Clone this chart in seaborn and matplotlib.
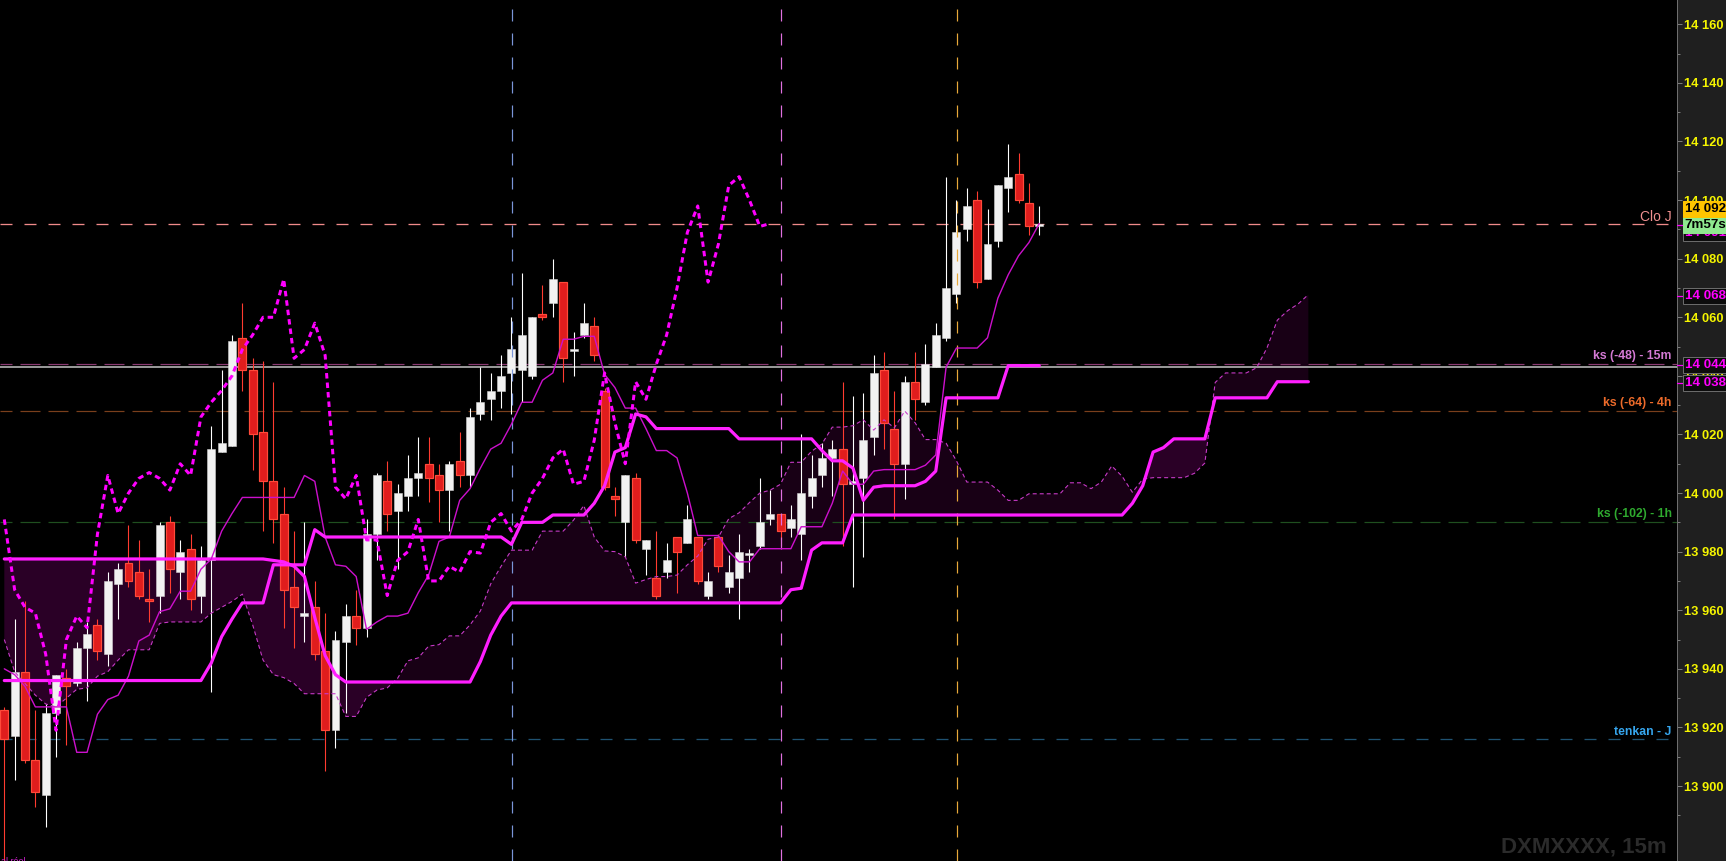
import numpy as np
import pandas as pd
import matplotlib
matplotlib.use("Agg")
import matplotlib.pyplot as plt
import matplotlib.transforms as mtransforms
from matplotlib.patches import Rectangle
from matplotlib.lines import Line2D
import seaborn as sns

# ---------------- data ----------------
opens = [13926, 13917, 13939, 13909, 13897, 13925, 13937, 13935, 13947, 13955,
         13945, 13969, 13976, 13973, 13964, 13965, 13990, 13973, 13981, 13965,
         13977, 14014, 14016, 14053, 14042, 14021, 14004, 13993, 13968, 13958,
         13961, 13946, 13919, 13949, 13958, 13954, 13986, 14004, 13994, 13999,
         14005, 14010, 14006, 14001, 14011, 14006, 14027, 14032, 14035, 14041,
         14042, 14040, 14061, 14065, 14072, 14048.5, 14054, 14057, 14035, 13999,
         13990, 14005, 13981, 13971, 13973, 13985, 13983, 13985, 13965, 13985,
         13968, 13971, 13979, 13982, 13991, 13993, 13988, 13986, 13999, 14006,
         14012, 14015, 14003, 14005, 14019, 14042, 14022, 14010, 14038, 14031,
         14043, 14053, 14068, 14090, 14100, 14073, 14086, 14104, 14109, 14099,
         14091]
highs = [13927, 13957, 13963, 13926, 13928, 13938, 13940, 13949, 13956, 13957,
         13973, 13976, 13989, 13984, 13974, 13990, 13992, 13984, 13986, 13982,
         14023, 14042, 14054, 14065, 14046, 14045, 14038, 14002, 13987, 13990,
         13970, 13959, 13953, 13962, 13967, 13991, 14007, 14011, 14003, 14013,
         14019, 14019, 14010, 14011, 14021, 14029, 14043, 14041, 14047, 14060,
         14075, 14060, 14071, 14080, 14072, 14055, 14065, 14060, 14036, 14002,
         14006, 14007, 13984, 13987, 13983, 13985, 13996, 13985, 13973, 13986,
         13979, 13986, 13981, 14005, 14001, 13993, 13996, 14020, 14013, 14017,
         14018, 14038, 14033, 14034, 14047, 14048, 14035, 14040, 14048, 14051,
         14058, 14108, 14100, 14104, 14103, 14097, 14105, 14119, 14116, 14106,
         14098]
lows = [13860, 13902, 13908, 13893, 13886, 13910, 13914, 13934, 13929, 13943,
        13941, 13957, 13968, 13964, 13956, 13959, 13966, 13964, 13960, 13959,
        13932, 14014, 14016, 14035, 14008, 13987, 13983, 13954, 13947, 13949,
        13943, 13905, 13913, 13925, 13948, 13951, 13977, 13987, 13974, 13994,
        13999, 13997, 13990, 13987, 14002, 14002, 14025, 14025, 14029, 14027,
        14031, 14039, 14059, 14060, 14038, 14040, 14053, 14045, 14001, 13992,
        13978, 13983, 13972, 13964, 13971, 13966, 13983, 13969, 13964, 13973,
        13966, 13957, 13973, 13981, 13989, 13982, 13985, 13977, 13995, 14002,
        13999, 13982, 13968, 13978, 14013, 14015, 13991, 13998, 14025, 14030,
        14043, 14052, 14065, 14086, 14070, 14073, 14084, 14096, 14099, 14088,
        14088]
closes = [13916, 13939, 13909, 13898, 13925, 13938, 13934, 13947, 13952, 13946,
          13970, 13974, 13970, 13965, 13963, 13989, 13974, 13980, 13964, 13977,
          14015, 14017, 14052, 14042, 14020, 14004, 13991, 13967, 13961, 13959,
          13945, 13919, 13950, 13958, 13954, 13986, 14006, 13993, 14000, 14005,
          14007, 14005, 14001, 14010, 14006, 14026, 14031, 14035, 14040, 14049,
          14054, 14060, 14060, 14073, 14046, 14049, 14058, 14047, 14002, 13998,
          14006, 13984, 13984, 13965, 13977, 13980, 13991, 13970, 13970, 13975,
          13973, 13980, 13979.5, 13990, 13993, 13987, 13991, 14000, 14005, 14012,
          14015, 14003, 14004, 14018, 14041, 14024, 14010, 14038, 14032, 14044,
          14054, 14070, 14089, 14098, 14072, 14085, 14105, 14108, 14100, 14091,
          14092]

tenkan = [13940, 13938, 13934, 13927, 13927, 13927, 13927, 13911.5, 13911.5, 13924.5,
          13929.5, 13931, 13937.5, 13949.5, 13951.5, 13959.5, 13960.5, 13966.5, 13966.5, 13974,
          13977.5, 13987, 13993, 13998.5, 13998.5, 13998.5, 13998.5, 13998.5, 13998.5, 14006,
          14004, 13985, 13975.5, 13975, 13971.5, 13953.5, 13956, 13958, 13958, 13959,
          13966, 13972, 13983.5, 13985, 13997.5, 14001.5, 14008.5, 14015, 14017, 14023.5,
          14031, 14031, 14038.5, 14041, 14052.5, 14052.5, 14053.5, 14053.5, 14040.5, 14036,
          14029, 14029, 14022, 14014.5, 14014.5, 14012, 14000, 13985.5, 13985.5, 13985.5,
          13980, 13976.5, 13976.5, 13981, 13981, 13981, 13981, 13988.5, 13988.5, 13988.5,
          13996.5, 14007.5, 14003, 14003, 14007.5, 14008, 14008, 14008, 14008, 14009.5,
          14013, 14043, 14049.5, 14049.5, 14049.5, 14053, 14066.5, 14074.5, 14081, 14085.5,
          14092]

kijun = [13936, 13936, 13936, 13936, 13936, 13936, 13936, 13936, 13936, 13936,
         13936, 13936, 13936, 13936, 13936, 13936, 13936, 13936, 13936, 13936,
         13942, 13951, 13957, 13962.5, 13962.5, 13962.5, 13975.5, 13975.5, 13975.5, 13975.5,
         13987.5, 13985, 13985, 13985, 13985, 13985, 13985, 13985, 13985, 13985,
         13985, 13985, 13985, 13985, 13985, 13985, 13985, 13985, 13985, 13982.5,
         13990, 13990, 13990, 13992.5, 13992.5, 13992.5, 13992.5, 13996.5, 14002.5, 14014,
         14015.5, 14027, 14026, 14022, 14022, 14022, 14022, 14022, 14022, 14022,
         14022, 14018.5, 14018.5, 14018.5, 14018.5, 14018.5, 14018.5, 14018.5, 14018.5, 14014.5,
         14011, 14011, 14008.5, 13997.5, 14002, 14002.5, 14002.5, 14002.5, 14002.5, 14004,
         14007.5, 14032.5, 14032.5, 14032.5, 14032.5, 14032.5, 14032.5, 14043.5, 14043.5, 14043.5,
         14043.5]

senkou_a = [13950, 13939, 13935, 13931, 13928, 13927, 13930, 13933, 13933.5, 13937.5,
            13939, 13943, 13946.5, 13946.5, 13946.5, 13955.5, 13956, 13956, 13956, 13956,
            13959, 13961, 13963, 13965.5, 13955, 13943, 13938, 13937, 13935, 13931.5,
            13931.5, 13931.5, 13931.5, 13923.75, 13923.75, 13930.25, 13932.75, 13933.5, 13936.75, 13942.75,
            13943.75, 13947.75, 13948.25, 13951.25, 13951.25, 13955, 13959.75, 13969, 13975, 13980.5,
            13980.5, 13980.5, 13987, 13987, 13987, 13990.75, 13995.75, 13985, 13980.25, 13980,
            13978.25, 13969.25, 13970.5, 13971.5, 13971.5, 13972, 13975.5, 13978.5, 13984.25, 13985,
            13991.25, 13993.25, 13996.75, 14000, 14001, 14003, 14010.5, 14010.5, 14014.25, 14016.75,
            14022.5, 14022.5, 14023, 14025, 14021.5, 14025, 14022.25, 14028, 14024, 14018.25,
            14018.25, 14017, 14011, 14003.75, 14003.75, 14003.75, 14001, 13997.5, 13997.5, 13999.75,
            13999.75, 13999.75, 13999.75, 14003.5, 14003.5, 14001.5, 14003.75, 14009.25, 14005.75, 14000.25,
            14004.75, 14005.25, 14005.25, 14005.25, 14005.25, 14006.75, 14010.25, 14037.75, 14041, 14041,
            14041, 14042.75, 14049.5, 14059, 14062.25, 14064.5, 14067.75]

senkou_b = [13977.5, 13977.5, 13977.5, 13977.5, 13977.5, 13977.5, 13977.5, 13977.5, 13977.5, 13977.5,
            13977.5, 13977.5, 13977.5, 13977.5, 13977.5, 13977.5, 13977.5, 13977.5, 13977.5, 13977.5,
            13977.5, 13977.5, 13977.5, 13977.5, 13977.5, 13977.5, 13977, 13976.5, 13975, 13971.5,
            13957.5, 13944.5, 13938, 13935.5, 13935.5, 13935.5, 13935.5, 13935.5, 13935.5, 13935.5,
            13935.5, 13935.5, 13935.5, 13935.5, 13935.5, 13935.5, 13942.5, 13951.5, 13958, 13962.5,
            13962.5, 13962.5, 13962.5, 13962.5, 13962.5, 13962.5, 13962.5, 13962.5, 13962.5, 13962.5,
            13962.5, 13962.5, 13962.5, 13962.5, 13962.5, 13962.5, 13962.5, 13962.5, 13962.5, 13962.5,
            13962.5, 13962.5, 13962.5, 13962.5, 13962.5, 13962.5, 13967, 13967.5, 13980.5, 13983,
            13983, 13983, 13992.5, 13992.5, 13992.5, 13992.5, 13992.5, 13992.5, 13992.5, 13992.5,
            13992.5, 13992.5, 13992.5, 13992.5, 13992.5, 13992.5, 13992.5, 13992.5, 13992.5, 13992.5,
            13992.5, 13992.5, 13992.5, 13992.5, 13992.5, 13992.5, 13992.5, 13992.5, 13992.5, 13996.5,
            14002.5, 14014, 14015.5, 14018.5, 14018.5, 14018.5, 14018.5, 14032.5, 14032.5, 14032.5,
            14032.5, 14032.5, 14032.5, 14038, 14038, 14038, 14038]

chikou = [13991, 13967, 13961, 13959, 13945, 13919, 13950, 13958, 13954, 13986,
          14006, 13993, 14000, 14005, 14007, 14005, 14001, 14010, 14006, 14026,
          14031, 14035, 14040, 14049, 14054, 14060, 14060, 14073, 14046, 14049,
          14058, 14047, 14002, 13998, 14006, 13984, 13984, 13965, 13977, 13980,
          13991, 13970, 13970, 13975, 13973, 13980, 13979.5, 13990, 13993, 13987,
          13991, 14000, 14005, 14012, 14015, 14003, 14004, 14018, 14041, 14024,
          14010, 14038, 14032, 14044, 14054, 14070, 14089, 14098, 14072, 14085,
          14105, 14108, 14100, 14091, 14092]

level_values = [14091.8, 14044, 14028, 13990, 13916]
level_labels = ["Clo J", "ks (-48) - 15m", "ks (-64) - 4h", "ks (-102) - 1h", "tenkan - J"]
white_level = [14043]
session_marks = [49.1, 75.07, 92.08]

ytick_values = [13900, 13920, 13940, 13960, 13980, 14000, 14020, 14040, 14060,
                14080, 14100, 14120, 14140, 14160]
ytick_labels = ["13 900", "13 920", "13 940", "13 960", "13 980", "14 000", "14 020",
                "14 040", "14 060", "14 080", "14 100", "14 120", "14 140", "14 160"]

tag_texts = ["14 091", "7m57s", "14 092", "14 068", "14 044", "14 038"]
tag_y = [14088.8, 14091.4, 14097.1, 14067.2, 14043.7, 14037.7]

corner_text = "al réel"

# ---------------- style ----------------
sns.set_theme(style="dark")
plt.rcParams["font.family"] = ["Liberation Sans", "DejaVu Sans"]
plt.rcParams["lines.scale_dashes"] = False

W, H, DPI = 1726, 861, 100
PX = 72.0 / DPI
PLOT_W = 1677

fig = plt.figure(figsize=(W / DPI, H / DPI), dpi=DPI, facecolor="#1f1f1f")
ax = fig.add_axes([0, 0, PLOT_W / W, 1])
ax.set_facecolor("#000000")
ax.grid(False)

x = np.arange(len(opens))
xf = np.arange(len(senkou_a))
sa = np.array(senkou_a, dtype=float)
sb = np.array(senkou_b, dtype=float)

# cloud
ax.fill_between(xf, sa, sb, where=sb >= sa, interpolate=True, color="#2a0026", lw=0, zorder=1)
ax.fill_between(xf, sa, sb, where=sa >= sb, interpolate=True, color="#180015", lw=0, zorder=1)

# horizontal levels
level_line_colors = ["#f08a8a", "#8a3a72", "#7a3f1c", "#1f4f1f", "#1f5272"]
level_text_colors = ["#f09090", "#d47ad4", "#ec6a2a", "#2faa2f", "#36a6ee"]
level_dash = [(0, (12 * PX, 12 * PX)), (8 * PX, (20 * PX, 8 * PX)), (8 * PX, (20 * PX, 8 * PX)),
              (8 * PX, (20 * PX, 8 * PX)), (0, (12 * PX, 12 * PX))]
level_lw = [1.3 * PX, 1.2 * PX, 1.2 * PX, 1.2 * PX, 1.3 * PX]
for v, col, ls, lw in zip(level_values, level_line_colors, level_dash, level_lw):
    ax.axhline(v, color=col, lw=lw, linestyle=ls, zorder=2)
for v in white_level:
    ax.axhline(v, color="#c8c8c8", lw=1.5 * PX, zorder=2)

tr_lbl = mtransforms.blended_transform_factory(ax.transAxes, ax.transData)
lbl_x = 1671.7 / PLOT_W
for i, (v, s, col) in enumerate(zip(level_values, level_labels, level_text_colors)):
    if i == 0:
        t = mtransforms.offset_copy(tr_lbl, fig=fig, y=3, units="dots")
        ax.text(lbl_x, v, s, transform=t, ha="right", va="baseline", color=col,
                fontsize=10, zorder=3)
    else:
        off = 4 if i == 4 else 5.5
        t = mtransforms.offset_copy(tr_lbl, fig=fig, y=off, units="dots")
        ax.text(lbl_x, v, s, transform=t, ha="right", va="baseline", color=col,
                fontsize=8.8, fontweight="bold", zorder=3)

# candles
o = np.array(opens, dtype=float)
c = np.array(closes, dtype=float)
h = np.array(highs, dtype=float)
l = np.array(lows, dtype=float)
up = c >= o
body_lo = np.minimum(o, c)
body_h = np.maximum(np.abs(c - o), 0.6)
wick_cols = np.where(up, "#ffffff", "#ff3b30")
ax.vlines(x, l, h, colors=list(wick_cols), lw=1.1 * PX, zorder=4)
ax.bar(x[up], body_h[up], bottom=body_lo[up], width=0.77, color="#f2f2f2",
       edgecolor="#d8d8d8", linewidth=0.5 * PX, zorder=5)
ax.bar(x[~up], body_h[~up], bottom=body_lo[~up], width=0.77, color="#e01d1d",
       edgecolor="#ff4a3a", linewidth=1.2 * PX, zorder=5)

# session separators
sess_cols = ["#7a95d8", "#e070e0", "#e8a83a"]
for xm, col in zip(session_marks, sess_cols):
    ax.axvline(xm, color=col, lw=1.2 * PX, linestyle=(0, (12 * PX, 12 * PX)), zorder=6)

# ichimoku lines (seaborn)
sns.lineplot(x=xf, y=sa, ax=ax, color="#c83ac8", linewidth=1.1 * PX,
             linestyle=(0, (4 * PX, 3 * PX)), estimator=None, sort=False, zorder=7)
sns.lineplot(x=xf, y=sb, ax=ax, color="#ff1eff", linewidth=3.2 * PX,
             estimator=None, sort=False, zorder=7)
sns.lineplot(x=x, y=np.array(tenkan, dtype=float), ax=ax, color="#cc10cc", linewidth=1.4 * PX,
             estimator=None, sort=False, zorder=8)
sns.lineplot(x=x, y=np.array(kijun, dtype=float), ax=ax, color="#ff22ff", linewidth=3.2 * PX,
             estimator=None, sort=False, zorder=8)
sns.lineplot(x=np.arange(len(chikou)), y=np.array(chikou, dtype=float), ax=ax, color="#ff00ff",
             linewidth=3.0 * PX, linestyle=(0, (5.5 * PX, 4 * PX)), estimator=None,
             sort=False, zorder=9)

# axes
ax.set_xlim(-0.4155, 161.62)
ax.set_ylim(13874.4, 14168.3)
ax.set_xlabel("")
ax.set_ylabel("")
ax.set_xticks([])
ax.yaxis.tick_right()
ax.set_yticks(ytick_values, labels=ytick_labels, fontweight="bold")
ax.set_yticks(np.arange(13890, 14170, 10), minor=True)
ax.tick_params(axis="y", which="major", direction="out", length=5 * PX, width=1 * PX,
               color="#7a7a7a", pad=2 * PX, labelsize=9.3, labelcolor="#f5f500", right=True, left=False)
ax.tick_params(axis="y", which="minor", direction="out", length=3 * PX, width=1 * PX,
               color="#7a7a7a", right=True, left=False)
for s in ["top", "left", "bottom"]:
    ax.spines[s].set_visible(False)
ax.spines["right"].set_color("#6e6e6e")
ax.spines["right"].set_linewidth(1 * PX)

# price tags on the axis
tr_tag = mtransforms.blended_transform_factory(fig.transFigure, ax.transData)
uy = (14168.3 - 13874.4) / H
tag_face = ["#0c0c0c", "#8fe88f", "#ffc400", "#0c0c0c", "#0c0c0c", "#0c0c0c"]
tag_edge = ["#6a6a6a", "#8fe88f", "#ffc400", "#6a6a6a", "#6a6a6a", "#6a6a6a"]
tag_tc = ["#ff00ff", "#000000", "#000000", "#ff00ff", "#ff00ff", "#ff00ff"]
for k, (s, yv) in enumerate(zip(tag_texts, tag_y)):
    rect = Rectangle((1682.5 / W, yv - 8 * uy), 43 / W, 16 * uy, transform=tr_tag,
                     facecolor=tag_face[k], edgecolor=tag_edge[k], lw=1 * PX, zorder=10 + 2 * k)
    fig.add_artist(rect)
    fig.text(1684.5 / W, yv, s, transform=tr_tag, ha="left", va="center", fontsize=9.6,
             fontweight="bold", color=tag_tc[k], zorder=11 + 2 * k)
for yv in [tag_y[1], tag_y[3], tag_y[4], tag_y[5]]:
    fig.add_artist(Line2D([PLOT_W / W, 1682.5 / W], [yv, yv], transform=tr_tag,
                          color="#ff00ff", lw=1.2 * PX, zorder=9))

# watermark and corner note
fig.text(1667 / W, (H - 852) / H, "DXMXXXX, 15m", ha="right", va="baseline",
         color="#2b2b2b", fontsize=16, fontweight="bold", zorder=3)
fig.text(1 / W, (H - 857) / H, corner_text, ha="left", va="top", color="#d020d0",
         fontsize=6.5, zorder=3)

fig.savefig("out.png", dpi=DPI, facecolor=fig.get_facecolor())
